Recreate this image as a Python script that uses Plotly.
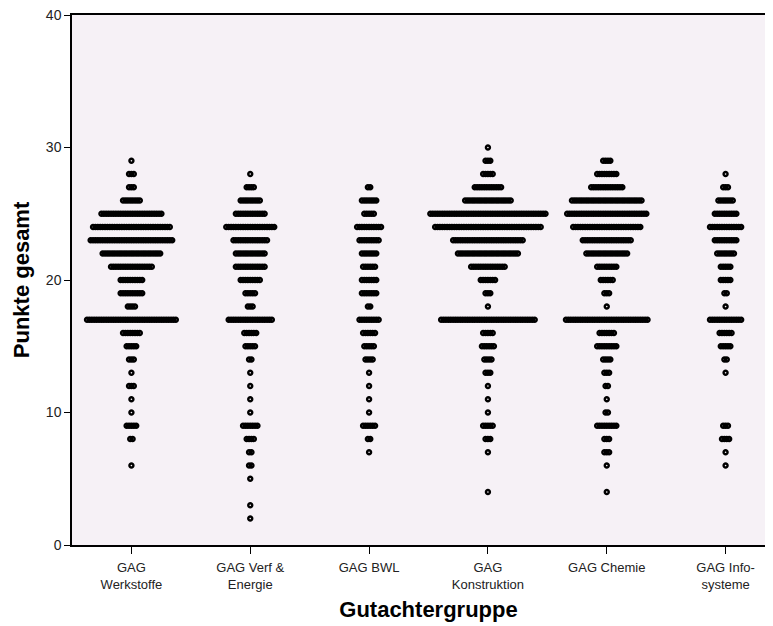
import plotly.graph_objects as go

# score values (y) shared by all groups
scores = list(range(2, 31))

groups = ["GAG<br>Werkstoffe", "GAG Verf &<br>Energie", "GAG BWL",
          "GAG<br>Konstruktion", "GAG Chemie", "GAG Info-<br>systeme"]

# counts per score value 2..30 for each group
werkstoffe   = [0,0,0,0,1,0,2,5,1,1,3,1,3,5,8,38,4,10,10,18,25,35,33,26,8,3,3,1,0]
verf_energie = [1,1,0,1,2,2,4,7,1,1,1,1,2,5,6,19,3,5,9,13,13,15,21,13,9,4,1,0,0]
bwl          = [0,0,0,0,0,1,2,6,1,1,1,1,4,5,6,9,2,7,7,6,7,9,11,5,7,2,0,0,0]
konstruktion = [0,0,1,0,0,1,3,5,1,1,1,3,4,6,5,40,1,3,7,15,26,30,45,49,20,12,5,3,1]
chemie       = [0,0,1,0,1,3,3,9,2,1,2,3,4,9,7,35,1,3,6,9,18,21,29,34,30,14,9,4,0]
infosysteme  = [0,0,0,0,1,1,4,3,0,0,0,1,2,5,6,14,1,2,5,5,8,10,14,10,7,3,1,0,0]

counts = [werkstoffe, verf_energie, bwl, konstruktion, chemie, infosysteme]

# page body has an 8px default margin, compensated here
W, H = 777, 626
ML, MR, MT, MB = 64, 0, 7, 89
xrange_ = [-0.5, 5.5]
px_per_unit = (W - ML - MR) / (xrange_[1] - xrange_[0])
step = 2.4 / px_per_unit  # horizontal stacking step of dots

xs, ys = [], []
for gi, cnt in enumerate(counts):
    for v, n in zip(scores, cnt):
        for j in range(n):
            xs.append(gi + (j - (n - 1) / 2) * step)
            ys.append(v)

bg = "#F6F1F6"
fig = go.Figure()
fig.add_trace(go.Scatter(
    x=xs, y=ys, mode="markers",
    marker=dict(symbol="circle-open", size=4, color="black",
                line=dict(width=2.4, color="black")),
    hoverinfo="skip", showlegend=False))

font = "Liberation Sans, Arial, sans-serif"
fig.update_layout(
    width=W, height=H,
    margin=dict(l=ML, r=MR, t=MT, b=MB, autoexpand=False),
    paper_bgcolor="white", plot_bgcolor=bg,
    font=dict(family=font, size=13, color="#222"),
    xaxis=dict(range=xrange_, tickvals=list(range(6)), ticktext=groups,
               automargin=False,
               showgrid=False, zeroline=False, showline=True, linecolor="black",
               linewidth=1.5, mirror=True, ticks="outside", ticklen=7,
               ticklabelstandoff=3,
               tickcolor="black", tickfont=dict(size=13, color="#222"),
               title=dict(text="<b>Gutachtergruppe</b>", font=dict(size=22, color="black"),
                          standoff=10)),
    yaxis=dict(range=[0, 40], tickvals=[0, 10, 20, 30, 40],
               automargin=False, ticklabeloverflow="allow",
               showgrid=False, zeroline=False, showline=True, linecolor="black",
               linewidth=1.5, ticks="outside", ticklen=6, tickcolor="black",
               tickfont=dict(size=14, color="#222"),
               title=dict(text="<b>Punkte gesamt</b>", font=dict(size=22, color="black"),
                          standoff=10)),
)
fig.write_html("out.html")
